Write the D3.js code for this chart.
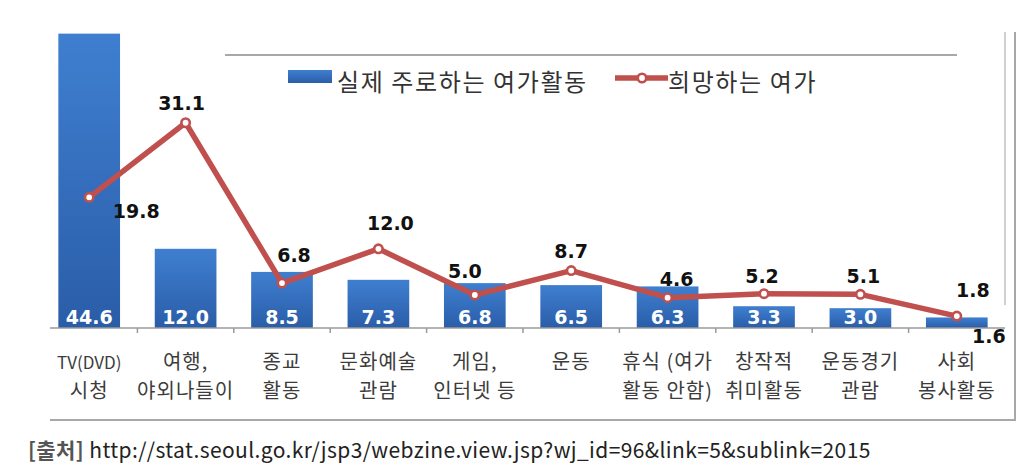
<!DOCTYPE html>
<html>
<head>
<meta charset="utf-8">
<script src="https://cdn.jsdelivr.net/npm/d3@7"></script>
<style>
  body { margin: 0; background: #fff; }
  svg { display: block; }
</style>
</head>
<body>
<div class="chart"></div>
<script>
// data
const categories = ["TV(DVD)\n시청", "여행,\n야외나들이", "종교\n활동", "문화예술\n관람", "게임,\n인터넷 등",
  "운동", "휴식 (여가\n활동 안함)", "창작적\n취미활동", "운동경기\n관람", "사회\n봉사활동"]
const actual = [44.6, 12.0, 8.5, 7.3, 6.8, 6.5, 6.3, 3.3, 3.0, 1.6]
const wanted = [19.8, 31.1, 6.8, 12.0, 5.0, 8.7, 4.6, 5.2, 5.1, 1.8]
const seriesNames = ["실제 주로하는 여가활동", "희망하는 여가"]
const sourceLabel = "[출처]"
const sourceUrl = "http://stat.seoul.go.kr/jsp3/webzine.view.jsp?wj_id=96&link=5&sublink=2015"

// label nudges (dx, dy) for the line values, to keep them off the line
const lineLabelNudge = [[47, 21], [-4, -13], [12, -21], [12, -19], [-10, -17],
  [0, -13], [9, -12], [-2, -11], [3, -11], [16, -19]]

const W = 1034, H = 474
const baseY = 328
const red = "#c0504d"
const numFont = "'DejaVu Sans', sans-serif"
const krFont = "'Noto Sans CJK KR', 'Noto Sans', sans-serif"

const svg = d3.select(".chart").append("svg")
  .attr("width", W).attr("height", H)

const defs = svg.append("defs")
const grad = defs.append("linearGradient")
  .attr("id", "barGrad").attr("x1", 0).attr("y1", 0).attr("x2", 0).attr("y2", 1)
grad.append("stop").attr("offset", "0%").attr("stop-color", "#3f7fd0")
grad.append("stop").attr("offset", "100%").attr("stop-color", "#2a5da8")

const xScale = d3.scaleBand()
  .domain(categories)
  .range([41, 1005])
  .paddingInner(0.36)
  .paddingOuter(0.18)

const yScale = d3.scaleLinear()
  .domain([0, 45])
  .range([baseY, 31])

// frame remnants
const frame = svg.append("g").attr("fill", "none")
frame.append("line").attr("x1", 225).attr("x2", 957).attr("y1", 55).attr("y2", 55)
  .attr("stroke", "#a8a8a8").attr("stroke-width", 2)
frame.append("line").attr("x1", 1005).attr("x2", 1005).attr("y1", 32).attr("y2", 305)
  .attr("stroke", "#d0d0d0").attr("stroke-width", 2)
frame.append("line").attr("x1", 1015).attr("x2", 1015).attr("y1", 32).attr("y2", 421)
  .attr("stroke", "#a8a8a8").attr("stroke-width", 2)
frame.append("line").attr("x1", 50).attr("x2", 1016).attr("y1", 420).attr("y2", 420)
  .attr("stroke", "#a8a8a8").attr("stroke-width", 2)

// bars
svg.append("g").selectAll("rect")
  .data(actual)
  .join("rect")
  .attr("x", (d, i) => xScale(categories[i]))
  .attr("width", xScale.bandwidth())
  .attr("y", d => yScale(d))
  .attr("height", d => yScale(0) - yScale(d))
  .attr("fill", "url(#barGrad)")

// x axis
const xAxis = d3.axisBottom(xScale).tickSize(0).tickFormat("")
const axisG = svg.append("g")
  .attr("class", "axis x-axis")
  .attr("transform", `translate(0, ${baseY})`)
  .call(xAxis)
axisG.select(".domain").remove()
axisG.append("line")
  .attr("x1", 50).attr("x2", 1005)
  .attr("stroke", "#9a9a9a").attr("stroke-width", 1.5)
const step = xScale.step()
axisG.selectAll(".sep")
  .data(categories.slice(1))
  .join("line")
  .attr("class", "sep")
  .attr("x1", d => xScale(d) - step * xScale.paddingInner() / 2)
  .attr("x2", d => xScale(d) - step * xScale.paddingInner() / 2)
  .attr("y1", 0).attr("y2", 5)
  .attr("stroke", "#9a9a9a").attr("stroke-width", 1.5)

// category labels
const catText = svg.append("g").selectAll("text")
  .data(categories)
  .join("text")
  .attr("text-anchor", "middle")
  .attr("font-family", krFont)
  .attr("font-size", 20)
  .attr("letter-spacing", 1)
  .attr("fill", "#3c3c3c")
catText.each(function (d) {
  const t = d3.select(this)
  const cx = xScale(d) + xScale.bandwidth() / 2
  d.split("\n").forEach((line, k) => {
    t.append("tspan")
      .attr("x", cx)
      .attr("y", 369 + k * 29)
      .attr("font-size", line.startsWith("TV") ? 17 : 20)
      .attr("letter-spacing", line.startsWith("TV") ? 0 : 1)
      .text(line)
  })
})

// bar values
svg.append("g").selectAll("text")
  .data(actual)
  .join("text")
  .attr("text-anchor", "middle")
  .attr("font-family", numFont)
  .attr("font-weight", "bold")
  .attr("font-size", 19)
  .attr("fill", (d, i) => i === actual.length - 1 ? "#111" : "#fff")
  .attr("x", (d, i) => xScale(categories[i]) + xScale.bandwidth() / 2 + (i === actual.length - 1 ? 32 : 0))
  .attr("y", (d, i) => i === actual.length - 1 ? baseY + 15 : baseY - 4)
  .text(d => d.toFixed(1))

// line
const cx = (d, i) => xScale(categories[i]) + xScale.bandwidth() / 2
const line = d3.line()
  .x(cx)
  .y(d => yScale(d))

svg.append("path")
  .datum(wanted)
  .attr("d", line)
  .attr("fill", "none")
  .attr("stroke", red)
  .attr("stroke-width", 5.5)
  .attr("stroke-linejoin", "round")

svg.append("g").selectAll("circle")
  .data(wanted)
  .join("circle")
  .attr("cx", cx)
  .attr("cy", d => yScale(d))
  .attr("r", 4.2)
  .attr("fill", "#fff")
  .attr("stroke", red)
  .attr("stroke-width", 2.6)

svg.append("g").selectAll("text")
  .data(wanted)
  .join("text")
  .attr("text-anchor", "middle")
  .attr("font-family", numFont)
  .attr("font-weight", "bold")
  .attr("font-size", 19)
  .attr("fill", "#111")
  .attr("x", (d, i) => cx(d, i) + lineLabelNudge[i][0])
  .attr("y", (d, i) => yScale(d) + lineLabelNudge[i][1])
  .text(d => d.toFixed(1))

// legend
const legend = svg.append("g").attr("font-family", krFont).attr("font-size", 24)
  .attr("letter-spacing", 1.6).attr("fill", "#333")
legend.append("rect").attr("x", 288).attr("y", 70).attr("width", 44).attr("height", 13)
  .attr("fill", "url(#barGrad)")
legend.append("text").attr("x", 337).attr("y", 91).text(seriesNames[0])
legend.append("line").attr("x1", 615).attr("x2", 668).attr("y1", 78).attr("y2", 78)
  .attr("stroke", red).attr("stroke-width", 5.5)
legend.append("circle").attr("cx", 642).attr("cy", 78).attr("r", 4.2)
  .attr("fill", "#fff").attr("stroke", red).attr("stroke-width", 2.6)
legend.append("text").attr("x", 668).attr("y", 91).text(seriesNames[1])

// source
const src = svg.append("text")
  .attr("x", 28).attr("y", 458)
  .attr("font-family", krFont)
  .attr("font-size", 21)
  .attr("letter-spacing", 0.4)
src.append("tspan").attr("fill", "#555").attr("font-weight", "bold").text(sourceLabel)
src.append("tspan").attr("fill", "#222").text(" " + sourceUrl)
</script>
</body>
</html>
